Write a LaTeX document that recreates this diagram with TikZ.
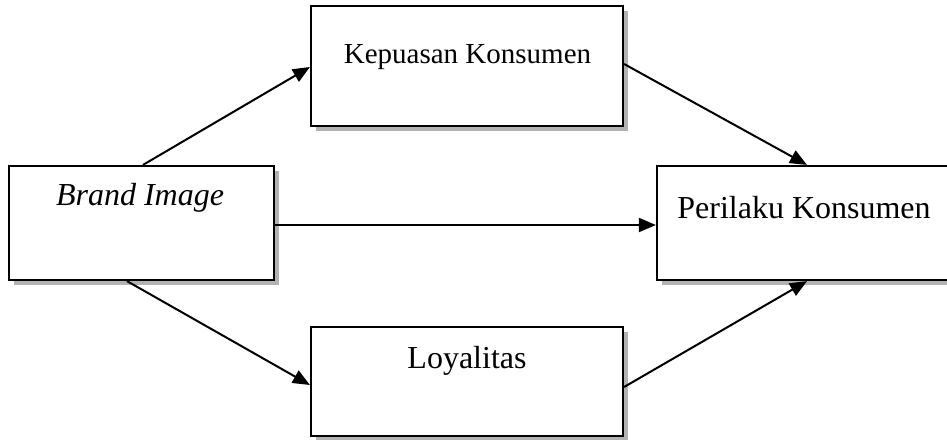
\documentclass[tikz,border=0pt]{standalone}
\usepackage{fontspec}
\setmainfont{Liberation Serif}
\usetikzlibrary{arrows.meta,shadows}
\begin{document}
\begin{tikzpicture}[x=1pt,y=-1pt,
  box/.style={draw,line width=2.2pt,fill=white,rectangle,inner sep=0pt,
    drop shadow={shadow xshift=4.5pt,shadow yshift=-4.5pt,fill=gray!60,opacity=1}},
  lbl/.style={anchor=base,inner sep=0pt,font=\fontsize{32}{36}\selectfont},
  conn/.style={line width=2pt,-{Triangle[length=17pt,width=14pt]}}]
\useasboundingbox (0,0) rectangle (947,439);
\node[box,minimum width=265pt,minimum height=114pt] (brand) at (141.5,223) {};
\node[box,minimum width=312pt,minimum height=120pt] (kep) at (467,66) {};
\node[box,minimum width=294pt,minimum height=114pt] (per) at (804,223) {};
\node[box,minimum width=312pt,minimum height=109pt] (loy) at (467,381.5) {};
\node[lbl,font=\fontsize{32}{36}\selectfont\itshape] (tbrand) at (140,205) {Brand Image};
\node[lbl,font=\fontsize{29}{34}\selectfont] (tkep) at (467.5,63) {Kepuasan Konsumen};
\node[lbl] (tper) at (804,218) {Perilaku Konsumen};
\node[lbl] (tloy) at (467,368) {Loyalitas};
\coordinate (b1) at ([xshift=1.5pt]brand.north);
\coordinate (b2) at ([xshift=-14.5pt]brand.south);
\coordinate (k1) at ([yshift=-1pt]kep.west);
\coordinate (k2) at ([yshift=2pt]kep.east);
\coordinate (l1) at ([yshift=-3.5pt]loy.west);
\coordinate (l2) at ([yshift=-5.5pt]loy.east);
\coordinate (p1) at ([xshift=3pt]per.north);
\coordinate (p2) at ([xshift=3pt]per.south);
\draw[conn] (b1) -- (k1);
\draw[conn] (b2) -- (l1);
\draw[conn] ([yshift=-2pt]brand.east) -- ([yshift=-2pt]per.west);
\draw[conn] (k2) -- (p1);
\draw[conn] (l2) -- (p2);
\end{tikzpicture}
\end{document}
